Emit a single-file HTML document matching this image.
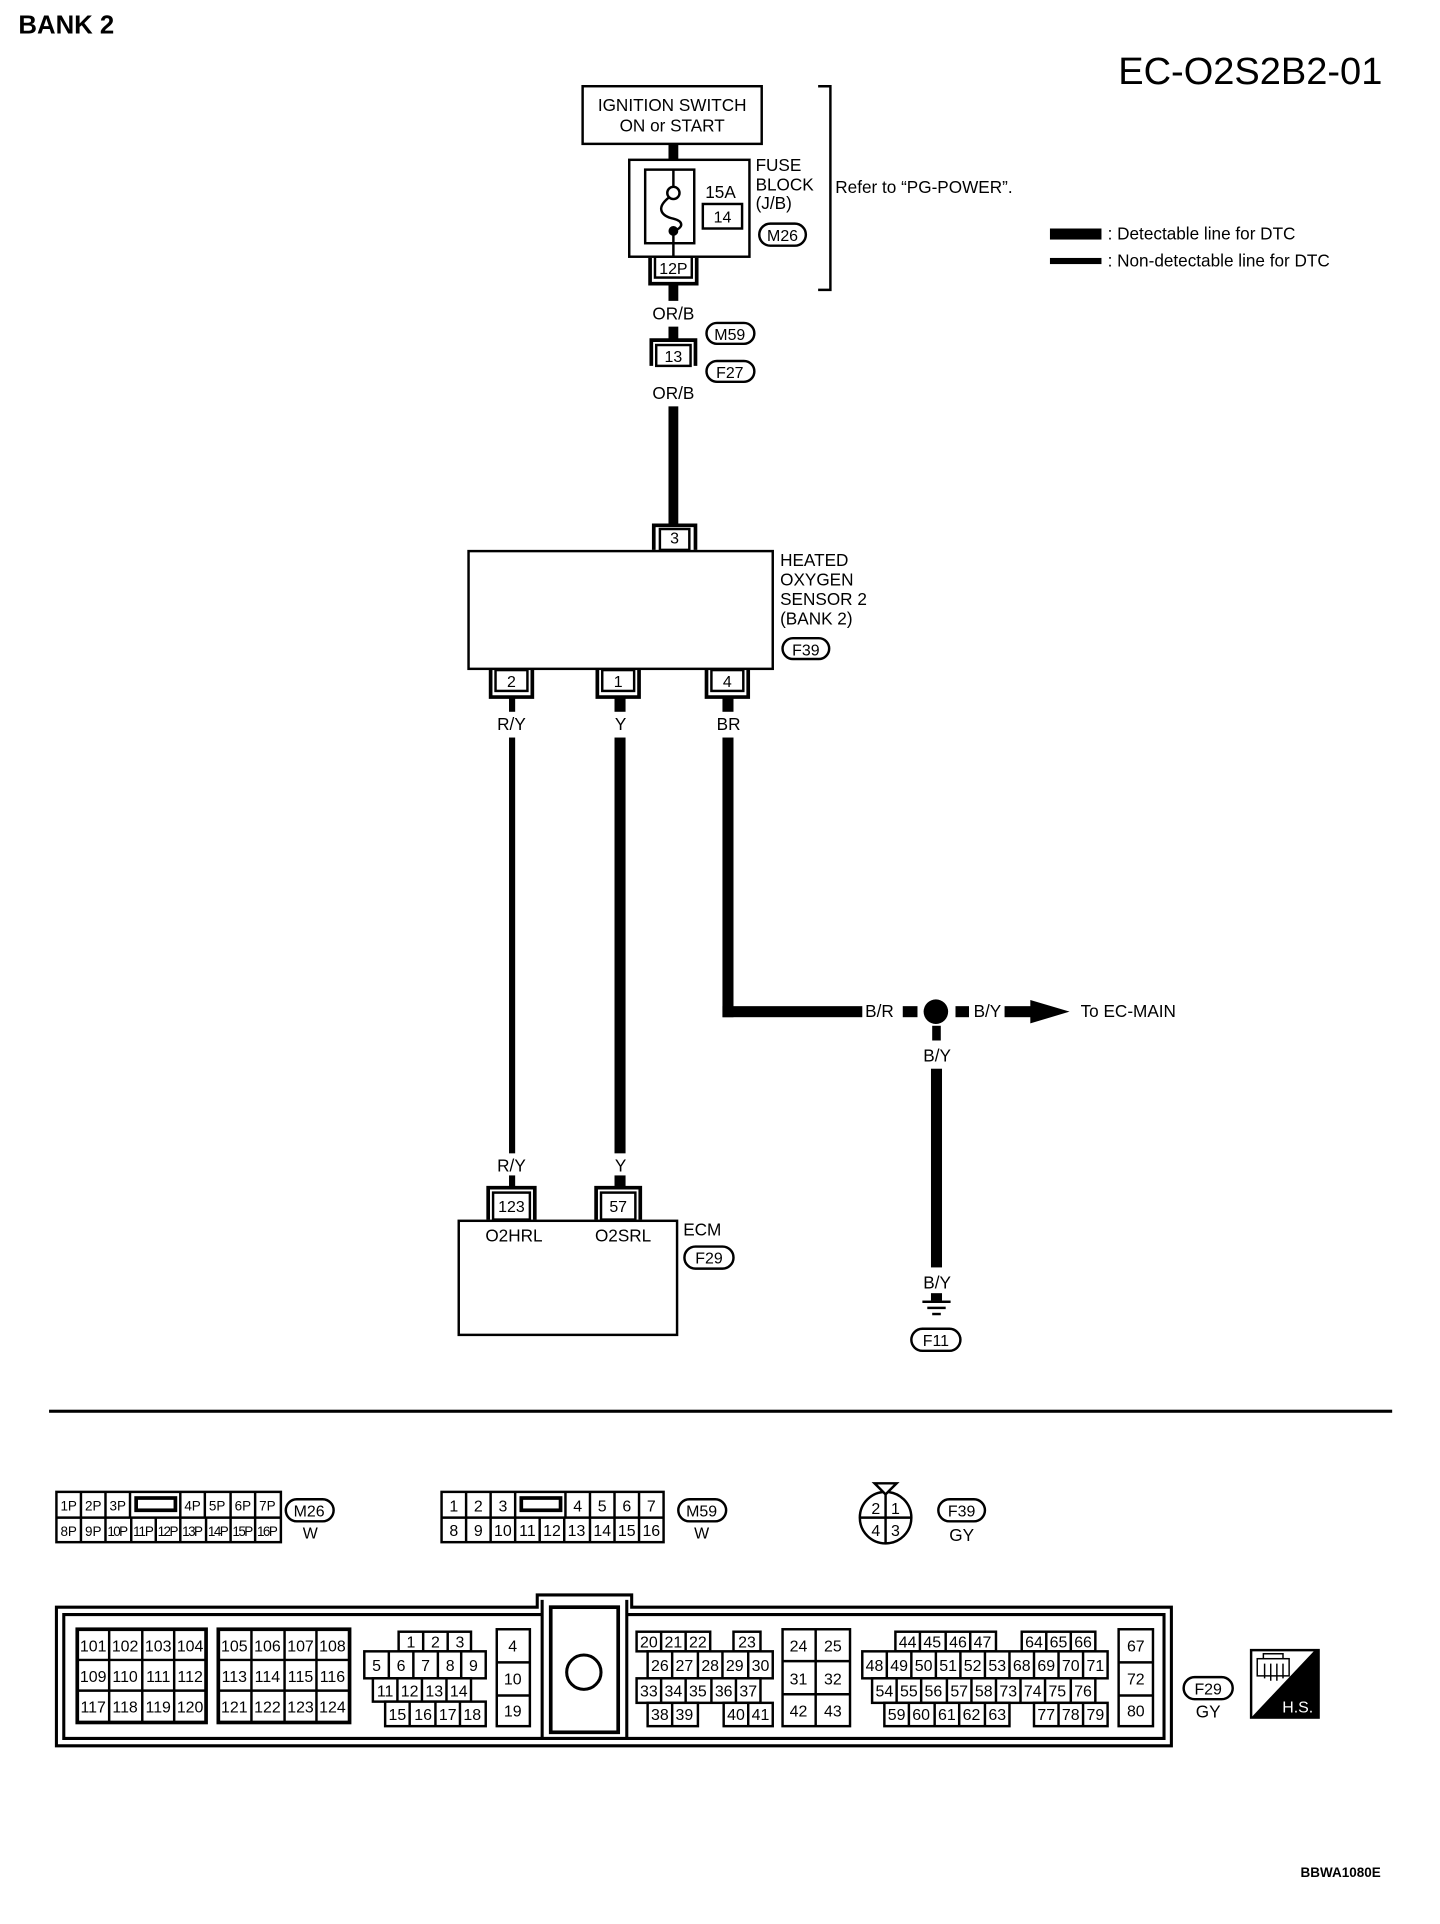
<!DOCTYPE html>
<html><head><meta charset="utf-8"><style>
html,body{margin:0;padding:0;background:#fff}
svg{display:block}
text{font-family:"Liberation Sans",Arial,sans-serif;fill:#000}
.c{font-size:12px;text-anchor:middle}
.l{font-size:14px}
</style></head><body>
<svg width="1440" height="1924" viewBox="0 0 1174 1568" xmlns="http://www.w3.org/2000/svg">
<rect width="1174" height="1568" fill="#fff"/>
<text x="15" y="27" style="font-size:21px;font-weight:bold">BANK 2</text>
<text x="1127" y="68" style="font-size:31px" text-anchor="end">EC-O2S2B2-01</text>

<g fill="none" stroke="#000" stroke-width="2">
<rect x="475" y="70" width="146" height="47"/>
<rect x="513" y="130" width="98" height="79"/>
<rect x="526" y="138" width="40" height="60"/>
<rect x="573" y="166" width="32" height="20"/>
<path d="M667,70 H677 V236 H667"/>
<circle cx="549" cy="157" r="5"/>
<path d="M545,161 C534,170 540,176 549,178 C557,180 558,185 549,188"/>
<path d="M549,138 V152 M549,190 V209"/>
<rect x="534" y="209" width="30" height="17"/>
<path d="M530,210 V231 H568 V210" stroke-width="3"/>
<rect x="535" y="281" width="28" height="17"/>
<path d="M531,298 V277 H567 V298" stroke-width="3"/>
<rect x="538" y="431" width="24" height="17"/>
<path d="M533,448 V428 H567 V448" stroke-width="3"/>
<rect x="382" y="449" width="248" height="96"/>
<rect x="404" y="546" width="26" height="17"/>
<path d="M400,545 V568 H434 V545" stroke-width="3"/>
<rect x="491" y="546" width="26" height="17"/>
<path d="M487,545 V568 H521 V545" stroke-width="3"/>
<rect x="580" y="546" width="26" height="17"/>
<path d="M576,545 V568 H610 V545" stroke-width="3"/>
<rect x="402" y="972" width="30" height="22"/>
<path d="M398,994 V968 H436 V994" stroke-width="3"/>
<rect x="490" y="972" width="28" height="22"/>
<path d="M486,994 V968 H522 V994" stroke-width="3"/>
<rect x="374" y="995" width="178" height="93"/>
<rect x="619" y="182" width="38" height="18" rx="9"/>
<rect x="576" y="263" width="39" height="17" rx="8.5"/>
<rect x="576" y="294" width="39" height="17" rx="8.5"/>
<rect x="638" y="520" width="38" height="17" rx="8.5"/>
<rect x="558" y="1016" width="40" height="18" rx="9"/>
<rect x="743" y="1083" width="40" height="18" rx="9"/>
</g>
<circle cx="549" cy="188" r="4" fill="#000"/>
<text x="548" y="90" class="l" text-anchor="middle">IGNITION SWITCH</text>
<text x="548" y="107" class="l" text-anchor="middle">ON or START</text>
<text x="575" y="161" class="l">15A</text>
<text x="589" y="181" class="c" style="font-size:13px">14</text>
<text x="616" y="139" class="l">FUSE</text>
<text x="616" y="155" class="l">BLOCK</text>
<text x="616" y="170" class="l">(J/B)</text>
<text x="638" y="196" class="c" style="font-size:13px">M26</text>
<text x="681" y="157" class="l">Refer to “PG-POWER”.</text>
<text x="549" y="223" class="c" style="font-size:13px">12P</text>
<text x="549" y="295" class="c" style="font-size:13px">13</text>
<text x="550" y="443" class="c" style="font-size:13px">3</text>
<text x="417" y="560" class="c" style="font-size:13px">2</text>
<text x="504" y="560" class="c" style="font-size:13px">1</text>
<text x="593" y="560" class="c" style="font-size:13px">4</text>
<text x="417" y="988" class="c" style="font-size:13px">123</text>
<text x="504" y="988" class="c" style="font-size:13px">57</text>
<text x="595" y="277" class="c" style="font-size:13px">M59</text>
<text x="595" y="308" class="c" style="font-size:13px">F27</text>
<text x="657" y="534" class="c" style="font-size:13px">F39</text>
<text x="578" y="1030" class="c" style="font-size:13px">F29</text>
<text x="763" y="1097" class="c" style="font-size:13px">F11</text>

<rect x="856" y="186" width="42" height="9" fill="#000"/>
<rect x="856" y="210" width="42" height="5" fill="#000"/>
<text x="903" y="195" class="l">: Detectable line for DTC</text>
<text x="903" y="217" class="l">: Non-detectable line for DTC</text>

<g fill="#000">
<rect x="545" y="117" width="8" height="13"/>
<rect x="545" y="231" width="8" height="14"/>
<rect x="545" y="266" width="8" height="11"/>
<rect x="545" y="331" width="8" height="97"/>
<rect x="415" y="568" width="5" height="12"/>
<rect x="415" y="601" width="5" height="339"/>
<rect x="415" y="958" width="5" height="10"/>
<rect x="501" y="568" width="9" height="12"/>
<rect x="501" y="601" width="9" height="339"/>
<rect x="501" y="958" width="9" height="10"/>
<rect x="589" y="568" width="9" height="12"/>
<rect x="589" y="601" width="9" height="228"/>
<rect x="589" y="820" width="114" height="9"/>
<rect x="736" y="820" width="12" height="9"/>
<rect x="779" y="820" width="11" height="9"/>
<rect x="819" y="820" width="22" height="9"/>
<path d="M840,815 L872,824.5 L840,834 Z"/>
<circle cx="763" cy="824.5" r="10"/>
<rect x="760" y="836" width="7" height="12"/>
<rect x="759" y="871" width="9" height="162"/>
<rect x="759" y="1054" width="9" height="6"/>
<rect x="752" y="1060" width="23" height="2"/>
<rect x="756" y="1065" width="15" height="2"/>
<rect x="760" y="1070" width="7" height="2"/>
</g>
<text x="549" y="260" class="l" text-anchor="middle">OR/B</text>
<text x="549" y="325" class="l" text-anchor="middle">OR/B</text>
<text x="636" y="461" class="l">HEATED</text>
<text x="636" y="477" class="l">OXYGEN</text>
<text x="636" y="493" class="l">SENSOR 2</text>
<text x="636" y="509" class="l">(BANK 2)</text>
<text x="417" y="595" class="l" text-anchor="middle">R/Y</text>
<text x="506" y="595" class="l" text-anchor="middle">Y</text>
<text x="594" y="595" class="l" text-anchor="middle">BR</text>
<text x="717" y="829" class="l" text-anchor="middle">B/R</text>
<text x="805" y="829" class="l" text-anchor="middle">B/Y</text>
<text x="881" y="829" class="l">To EC-MAIN</text>
<text x="764" y="865" class="l" text-anchor="middle">B/Y</text>
<text x="764" y="1050" class="l" text-anchor="middle">B/Y</text>
<text x="417" y="955" class="l" text-anchor="middle">R/Y</text>
<text x="506" y="955" class="l" text-anchor="middle">Y</text>
<text x="419" y="1012" class="l" text-anchor="middle">O2HRL</text>
<text x="508" y="1012" class="l" text-anchor="middle">O2SRL</text>
<text x="557" y="1007" class="l">ECM</text>

<rect x="40" y="1149" width="1095" height="2.5" fill="#000"/>

<g fill="#fff" stroke="#000" stroke-width="2">
<rect x="46" y="1216" width="183" height="41"/>
<path d="M66,1216V1237 M86,1216V1237 M106,1216V1237 M147,1216V1237 M167,1216V1237 M188,1216V1237 M208,1216V1237 M46,1237H229"/>
<path d="M66,1237V1257 M86,1237V1257 M107,1237V1257 M127,1237V1257 M147,1237V1257 M168,1237V1257 M188,1237V1257 M208,1237V1257"/>
<rect x="111" y="1221" width="32" height="10" stroke-width="3"/>
<rect x="360" y="1216" width="181" height="41"/>
<path d="M380,1216V1237 M400,1216V1237 M420,1216V1237 M461,1216V1237 M481,1216V1237 M501,1216V1237 M521,1216V1237 M360,1237H541"/>
<path d="M380,1237V1257 M400,1237V1257 M420,1237V1257 M440,1237V1257 M460,1237V1257 M481,1237V1257 M501,1237V1257 M521,1237V1257"/>
<rect x="425" y="1221" width="32" height="10" stroke-width="3"/>
<rect x="233" y="1222" width="39" height="18" rx="9"/>
<rect x="553" y="1222" width="39" height="18" rx="9"/>
<rect x="765" y="1222" width="38" height="18" rx="9"/>
<circle cx="722" cy="1237" r="21"/>
<path d="M722,1216V1258 M701,1237H743"/>
<path d="M713,1209H731L722,1218Z"/>
</g>
<g class="c" style="font-size:11px">
<text x="56" y="1231">1P</text><text x="76" y="1231">2P</text><text x="96" y="1231">3P</text>
<text x="157" y="1231">4P</text><text x="177" y="1231">5P</text><text x="198" y="1231">6P</text><text x="218" y="1231">7P</text>
<text x="56" y="1252">8P</text><text x="76" y="1252">9P</text><text x="96" y="1252" textLength="17">10P</text><text x="117" y="1252" textLength="17">11P</text><text x="137" y="1252" textLength="17">12P</text><text x="157" y="1252" textLength="17">13P</text><text x="178" y="1252" textLength="17">14P</text><text x="198" y="1252" textLength="17">15P</text><text x="218" y="1252" textLength="17">16P</text>
</g>
<g class="c" style="font-size:13px">
<text x="370" y="1232">1</text><text x="390" y="1232">2</text><text x="410" y="1232">3</text>
<text x="471" y="1232">4</text><text x="491" y="1232">5</text><text x="511" y="1232">6</text><text x="531" y="1232">7</text>
<text x="370" y="1252">8</text><text x="390" y="1252">9</text><text x="410" y="1252">10</text><text x="430" y="1252">11</text><text x="450" y="1252">12</text><text x="470" y="1252">13</text><text x="491" y="1252">14</text><text x="511" y="1252">15</text><text x="531" y="1252">16</text>
<text x="714" y="1234">2</text><text x="730" y="1234">1</text><text x="714" y="1252">4</text><text x="730" y="1252">3</text>
<text x="252" y="1236">M26</text><text x="572" y="1236">M59</text><text x="784" y="1236">F39</text>
<text x="253" y="1254">W</text><text x="572" y="1254">W</text><text x="784" y="1256" style="font-size:14px">GY</text>
</g>

<g fill="none" stroke="#000" stroke-width="2.5">
<path d="M46,1310 H438 V1300 H515 V1310 H955 V1423 H46 Z"/>
<path d="M442,1316 H52 V1417 H949 V1316 H511 M442,1304 V1417 M511,1304 V1417"/>
<rect x="449" y="1310" width="55" height="102" stroke-width="3"/>
<circle cx="476" cy="1363" r="14"/>
</g>
<g fill="#fff" stroke="#000" stroke-width="2">
<rect x="63" y="1328" width="105" height="76" stroke-width="3"/>
<path d="M89,1328V1404 M116,1328V1404 M142,1328V1404 M63,1353H168 M63,1378H168"/>
<rect x="178" y="1328" width="107" height="76" stroke-width="3"/>
<path d="M205,1328V1404 M232,1328V1404 M258,1328V1404 M178,1353H285 M178,1378H285"/>
<rect x="325" y="1330" width="59" height="16"/><path d="M345,1330V1346 M365,1330V1346"/>
<rect x="297" y="1346" width="99" height="22"/><path d="M317,1346V1368 M337,1346V1368 M357,1346V1368 M376,1346V1368"/>
<rect x="304" y="1368" width="80" height="19"/><path d="M324,1368V1387 M344,1368V1387 M364,1368V1387"/>
<rect x="314" y="1387" width="82" height="20"/><path d="M334,1387V1407 M355,1387V1407 M375,1387V1407"/>
<rect x="405" y="1328" width="27" height="79"/><path d="M405,1355H432 M405,1382H432"/>
<rect x="519" y="1330" width="60" height="16"/><path d="M539,1330V1346 M559,1330V1346"/>
<rect x="598" y="1330" width="22" height="16"/>
<rect x="528" y="1346" width="102" height="22"/><path d="M548,1346V1368 M569,1346V1368 M589,1346V1368 M610,1346V1368"/>
<rect x="519" y="1368" width="101" height="20"/><path d="M539,1368V1388 M559,1368V1388 M580,1368V1388 M600,1368V1388"/>
<rect x="528" y="1388" width="41" height="19"/><path d="M548,1388V1407"/>
<rect x="590" y="1388" width="40" height="19"/><path d="M610,1388V1407"/>
<rect x="638" y="1328" width="55" height="79"/><path d="M665,1328V1407 M638,1354H693 M638,1381H693"/>
<rect x="730" y="1330" width="82" height="16"/><path d="M750,1330V1346 M771,1330V1346 M791,1330V1346"/>
<rect x="833" y="1330" width="60" height="16"/><path d="M853,1330V1346 M873,1330V1346"/>
<rect x="703" y="1346" width="200" height="22"/><path d="M723,1346V1368 M743,1346V1368 M763,1346V1368 M783,1346V1368 M803,1346V1368 M823,1346V1368 M843,1346V1368 M863,1346V1368 M883,1346V1368"/>
<rect x="711" y="1368" width="182" height="20"/><path d="M731,1368V1388 M751,1368V1388 M772,1368V1388 M792,1368V1388 M812,1368V1388 M832,1368V1388 M852,1368V1388 M873,1368V1388"/>
<rect x="721" y="1388" width="102" height="19"/><path d="M741,1388V1407 M762,1388V1407 M782,1388V1407 M803,1388V1407"/>
<rect x="843" y="1388" width="60" height="19"/><path d="M863,1388V1407 M883,1388V1407"/>
<rect x="912" y="1328" width="28" height="79"/><path d="M912,1355H940 M912,1382H940"/>
<rect x="965" y="1367" width="40" height="18" rx="9"/>
</g>
<g class="c" style="font-size:13px">
<text x="76" y="1346">101</text><text x="102" y="1346">102</text><text x="129" y="1346">103</text><text x="155" y="1346">104</text>
<text x="76" y="1371">109</text><text x="102" y="1371">110</text><text x="129" y="1371">111</text><text x="155" y="1371">112</text>
<text x="76" y="1396">117</text><text x="102" y="1396">118</text><text x="129" y="1396">119</text><text x="155" y="1396">120</text>
<text x="191" y="1346">105</text><text x="218" y="1346">106</text><text x="245" y="1346">107</text><text x="271" y="1346">108</text>
<text x="191" y="1371">113</text><text x="218" y="1371">114</text><text x="245" y="1371">115</text><text x="271" y="1371">116</text>
<text x="191" y="1396">121</text><text x="218" y="1396">122</text><text x="245" y="1396">123</text><text x="271" y="1396">124</text>
<text x="335" y="1343">1</text><text x="355" y="1343">2</text><text x="375" y="1343">3</text>
<text x="307" y="1362">5</text><text x="327" y="1362">6</text><text x="347" y="1362">7</text><text x="367" y="1362">8</text><text x="386" y="1362">9</text>
<text x="314" y="1383">11</text><text x="334" y="1383">12</text><text x="354" y="1383">13</text><text x="374" y="1383">14</text>
<text x="324" y="1402">15</text><text x="345" y="1402">16</text><text x="365" y="1402">17</text><text x="385" y="1402">18</text>
<text x="418" y="1346">4</text><text x="418" y="1373">10</text><text x="418" y="1399">19</text>
<text x="529" y="1343">20</text><text x="549" y="1343">21</text><text x="569" y="1343">22</text><text x="609" y="1343">23</text>
<text x="538" y="1362">26</text><text x="558" y="1362">27</text><text x="579" y="1362">28</text><text x="599" y="1362">29</text><text x="620" y="1362">30</text>
<text x="529" y="1383">33</text><text x="549" y="1383">34</text><text x="569" y="1383">35</text><text x="590" y="1383">36</text><text x="610" y="1383">37</text>
<text x="538" y="1402">38</text><text x="558" y="1402">39</text><text x="600" y="1402">40</text><text x="620" y="1402">41</text>
<text x="651" y="1346">24</text><text x="679" y="1346">25</text><text x="651" y="1373">31</text><text x="679" y="1373">32</text><text x="651" y="1399">42</text><text x="679" y="1399">43</text>
<text x="740" y="1343">44</text><text x="760" y="1343">45</text><text x="781" y="1343">46</text><text x="801" y="1343">47</text>
<text x="843" y="1343">64</text><text x="863" y="1343">65</text><text x="883" y="1343">66</text>
<text x="713" y="1362">48</text><text x="733" y="1362">49</text><text x="753" y="1362">50</text><text x="773" y="1362">51</text><text x="793" y="1362">52</text><text x="813" y="1362">53</text><text x="833" y="1362">68</text><text x="853" y="1362">69</text><text x="873" y="1362">70</text><text x="893" y="1362">71</text>
<text x="721" y="1383">54</text><text x="741" y="1383">55</text><text x="761" y="1383">56</text><text x="782" y="1383">57</text><text x="802" y="1383">58</text><text x="822" y="1383">73</text><text x="842" y="1383">74</text><text x="862" y="1383">75</text><text x="883" y="1383">76</text>
<text x="731" y="1402">59</text><text x="751" y="1402">60</text><text x="772" y="1402">61</text><text x="792" y="1402">62</text><text x="813" y="1402">63</text>
<text x="853" y="1402">77</text><text x="873" y="1402">78</text><text x="893" y="1402">79</text>
<text x="926" y="1346">67</text><text x="926" y="1373">72</text><text x="926" y="1399">80</text>
<text x="985" y="1381">F29</text><text x="985" y="1400" style="font-size:14px">GY</text>
</g>
<rect x="1019" y="1344" width="57" height="57" fill="#000"/>
<path d="M1021,1346 H1071 L1021,1399 Z" fill="#fff"/>
<g fill="none" stroke="#000" stroke-width="1.2"><rect x="1025" y="1352" width="26" height="14"/><path d="M1030,1352 V1348 H1046 V1352 M1031,1356 V1368 M1036,1356 V1370 M1041,1356 V1370 M1046,1356 V1368"/></g>
<text x="1058" y="1396" style="font-size:13px;fill:#fff" text-anchor="middle">H.S.</text>
<text x="1093" y="1530" style="font-size:11px;font-weight:bold" text-anchor="middle">BBWA1080E</text>
</svg>
</body></html>
